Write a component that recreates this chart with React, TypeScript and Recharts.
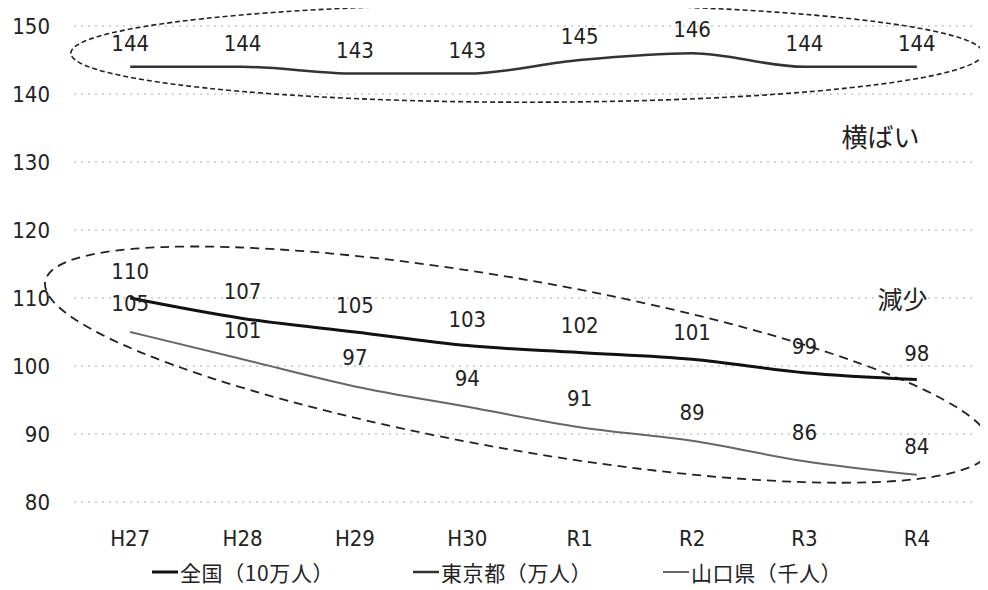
import React from "react";
import {
  CartesianGrid,
  Customized,
  LabelList,
  Legend,
  Line,
  LineChart,
  XAxis,
  YAxis,
} from "recharts";

const CATEGORIES = ["H27", "H28", "H29", "H30", "R1", "R2", "R3", "R4"];
const ZENKOKU = [110, 107, 105, 103, 102, 101, 99, 98];
const TOKYO = [144, 144, 143, 143, 145, 146, 144, 144];
const YAMAGUCHI = [105, 101, 97, 94, 91, 89, 86, 84];
const Y_TICKS = [80, 90, 100, 110, 120, 130, 140, 150];

const SERIES = [
  { key: "zenkoku", name: "全国（10万人）", values: ZENKOKU, color: "#111", width: 3, labelOffset: 19 },
  { key: "tokyo", name: "東京都（万人）", values: TOKYO, color: "#333", width: 2.5, labelOffset: 16 },
  { key: "yamaguchi", name: "山口県（千人）", values: YAMAGUCHI, color: "#666", width: 2, labelOffset: 21 },
];

const data = CATEGORIES.map((period, i) => ({
  period,
  zenkoku: ZENKOKU[i],
  tokyo: TOKYO[i],
  yamaguchi: YAMAGUCHI[i],
}));

const CHART_W = 980;
const CHART_H = 582;
const PLOT_LEFT = 66;
const PLOT_TOP = 18;
const PLOT_RIGHT = 965;
const PLOT_BOTTOM = 494;
const PLOT_W = PLOT_RIGHT - PLOT_LEFT;
const PLOT_H = PLOT_BOTTOM - PLOT_TOP;
const HALF_BAND = PLOT_W / CATEGORIES.length / 2;
const LEGEND_H = 48;

const NUM_FONT = "'DejaVu Sans Condensed', 'DejaVu Sans', Verdana, sans-serif";
const JP_FONT = "'Noto Sans CJK JP', 'DejaVu Sans', sans-serif";

// helpers for annotation placement, same geometry as the chart
const xAt = (i: number) => PLOT_LEFT + (i + 0.5) * (PLOT_W / CATEGORIES.length);
const yAt = (v: number) => PLOT_TOP + ((150 - v) / 70) * PLOT_H;

function Annotations() {
  const cx1 = xAt(3.53);
  const cy1 = yAt(146);
  const cx2 = xAt(3.45);
  const cy2 = yAt(100.2);
  return (
    <g>
      <ellipse cx={cx1} cy={cy1} rx={456} ry={49} fill="none" stroke="#222" strokeWidth={1.6} strokeDasharray="5 3" />
      <ellipse
        cx={cx2}
        cy={cy2}
        rx={480}
        ry={85}
        fill="none"
        stroke="#222"
        strokeWidth={1.8}
        strokeDasharray="9 6"
        transform={`rotate(10 ${cx2} ${cy2})`}
      />
      <text x={xAt(6.33)} y={yAt(133.2)} fontSize={26} fontFamily={JP_FONT} fill="#222" dominantBaseline="middle">
        横ばい
      </text>
      <text x={xAt(6.65)} y={yAt(109.4)} fontSize={25} fontFamily={JP_FONT} fill="#222" dominantBaseline="middle">
        減少
      </text>
    </g>
  );
}

const LEGEND_LEFTS = [144, 405, 655];

function LegendContent() {
  return (
    <div style={{ position: "relative", width: CHART_W, height: LEGEND_H }}>
      {SERIES.map((s, i) => (
        <div
          key={s.key}
          style={{
            position: "absolute",
            left: LEGEND_LEFTS[i],
            top: 17,
            display: "flex",
            alignItems: "center",
            fontFamily: JP_FONT,
            fontSize: 21,
            lineHeight: "26px",
            letterSpacing: 0.6,
            color: "#222",
            whiteSpace: "nowrap",
          }}
        >
          <svg width={26} height={10} style={{ marginRight: 2 }}>
            <line x1={0} y1={5} x2={26} y2={5} stroke={s.color} strokeWidth={s.width} />
          </svg>
          <span>{s.name}</span>
        </div>
      ))}
    </div>
  );
}

export default function App() {
  return (
    <div style={{ width: CHART_W, height: CHART_H, background: "#fff" }}>
      <LineChart width={CHART_W} height={CHART_H} data={data} margin={{ top: PLOT_TOP, right: CHART_W - PLOT_RIGHT, left: 0, bottom: 0 }}>
        <CartesianGrid vertical={false} stroke="#aaa" strokeDasharray="2 5" />
        <XAxis
          dataKey="period"
          height={CHART_H - PLOT_BOTTOM - LEGEND_H}
          padding={{ left: HALF_BAND, right: HALF_BAND }}
          axisLine={false}
          tickLine={false}
          tickSize={0}
          tickMargin={28}
          tick={{ fill: "#222", fontSize: 22, fontFamily: NUM_FONT }}
        />
        <YAxis
          width={PLOT_LEFT}
          domain={[80, 150]}
          ticks={Y_TICKS}
          axisLine={false}
          tickLine={false}
          tickSize={0}
          tickMargin={24}
          tick={{ fill: "#222", fontSize: 22, fontFamily: NUM_FONT }}
        />
        <Legend verticalAlign="bottom" content={<LegendContent />} />
        {SERIES.map((s) => (
          <Line
            key={s.key}
            type="monotone"
            dataKey={s.key}
            name={s.name}
            stroke={s.color}
            strokeWidth={s.width}
            dot={false}
            isAnimationActive={false}
          >
            <LabelList
              dataKey={s.key}
              position="top"
              offset={s.labelOffset}
              style={{ fill: "#222", fontSize: 22, fontFamily: NUM_FONT }}
            />
          </Line>
        ))}
        <Customized component={<Annotations />} />
      </LineChart>
    </div>
  );
}
